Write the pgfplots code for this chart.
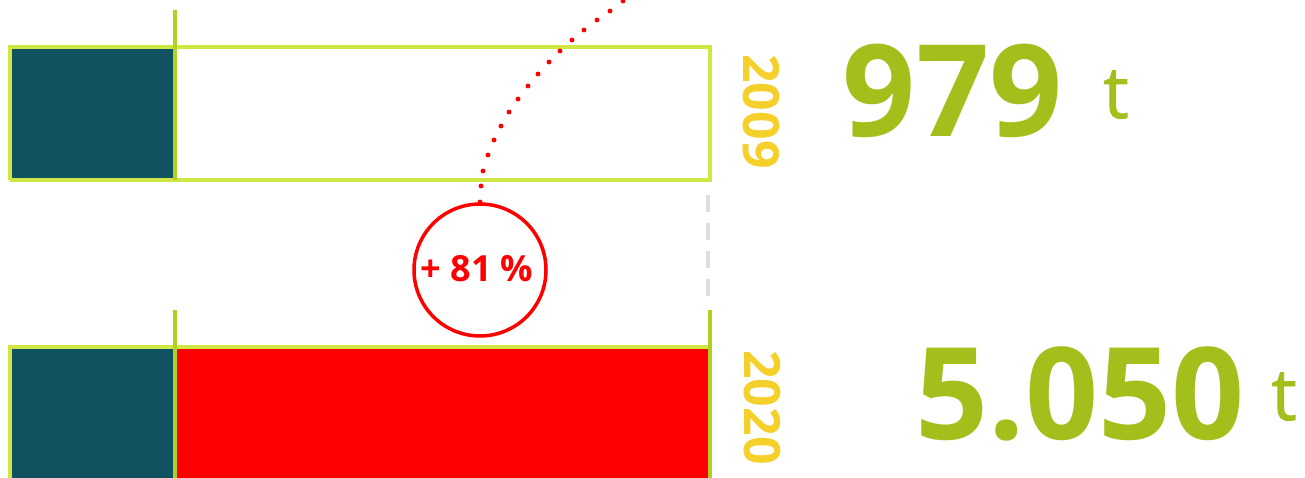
\documentclass[border=0pt]{standalone}
\usepackage{fontspec}
\setmainfont{Open Sans}
\usepackage{pgfplots}
\pgfplotsset{compat=1.18}
\definecolor{teal1}{HTML}{10525F}
\definecolor{limeL}{HTML}{D0E643}
\definecolor{limeD}{HTML}{B2D021}
\definecolor{redA}{HTML}{FF0000}
\definecolor{grayD}{HTML}{DEDEDE}
\definecolor{yel}{HTML}{F5D02A}
\definecolor{grn}{HTML}{A2BF1C}
\begin{document}
\begin{tikzpicture}
\begin{axis}[name=ax, width=1305pt, height=477pt, scale only axis,
  xmin=0, xmax=1305, ymin=0, ymax=477, hide axis, clip=false]
% bar 2009: teal part, empty remainder
\addplot[fill=teal1, draw=none] coordinates {(10,297) (175,297) (175,430) (10,430) (10,297)};
\addplot[draw=limeL, line width=4pt] coordinates {(10,297) (710,297) (710,430) (10,430) (10,297)};
% bar 2020: teal + red
\addplot[fill=teal1, draw=none] coordinates {(10,-5) (175,-5) (175,130) (10,130) (10,-5)};
\addplot[fill=redA, draw=none] coordinates {(175,-5) (710,-5) (710,130) (175,130) (175,-5)};
\addplot[draw=limeL, line width=4pt] coordinates {(10,-5) (10,130) (710,130)};
% dividers
\addplot[draw=limeD, line width=3.5pt] coordinates {(175,467) (175,297)};
\addplot[draw=limeD, line width=3.5pt] coordinates {(175,167) (175,-5)};
\addplot[draw=limeD, line width=3.5pt] coordinates {(710,167) (710,-5)};
% dashed guide
\addplot[draw=grayD, line width=4pt, dash pattern=on 17pt off 11pt] coordinates {(708,282) (708,177)};
% dotted arc
\addplot[only marks, mark=*, mark size=2.2pt, color=redA] coordinates {
(480,275) (481,291) (483,306) (488,322) (494,337) (501,351) (509,365) (518,378)
(528,391) (538,403) (549,415) (560,426) (572,437) (584,447) (597,457) (610,466) (623,476)};
% circle
\draw[redA, line width=3.5pt] (axis cs:480,207) circle[radius=66pt];
\node[text=redA, font=\bfseries\fontsize{36}{40}\selectfont, anchor=center] at (axis cs:477,208) {+ 81 \%};
% years
\node[text=yel, font=\bfseries\fontsize{50}{54}\selectfont, rotate=-90, anchor=center] at (axis cs:761,365.5) {2009};
\node[text=yel, font=\bfseries\fontsize{50}{54}\selectfont, rotate=-90, anchor=center] at (axis cs:762,69.5) {2020};
% values
\node[text=grn, font=\bfseries\fontsize{128}{132}\selectfont, anchor=base] at (axis cs:952.5,340) {979};
\node[text=grn, font=\fontsize{72}{76}\selectfont\addfontfeatures{FakeBold=1.2}, anchor=base] at (axis cs:1116,359) {t};
\node[text=grn, font=\bfseries\fontsize{128}{132}\selectfont, anchor=base] at (axis cs:1080,38) {5.050};
\node[text=grn, font=\fontsize{72}{76}\selectfont\addfontfeatures{FakeBold=1.2}, anchor=base] at (axis cs:1284,57) {t};
\end{axis}
\pgfresetboundingbox
\useasboundingbox (ax.south west) rectangle (ax.north east);
\end{tikzpicture}
\end{document}
